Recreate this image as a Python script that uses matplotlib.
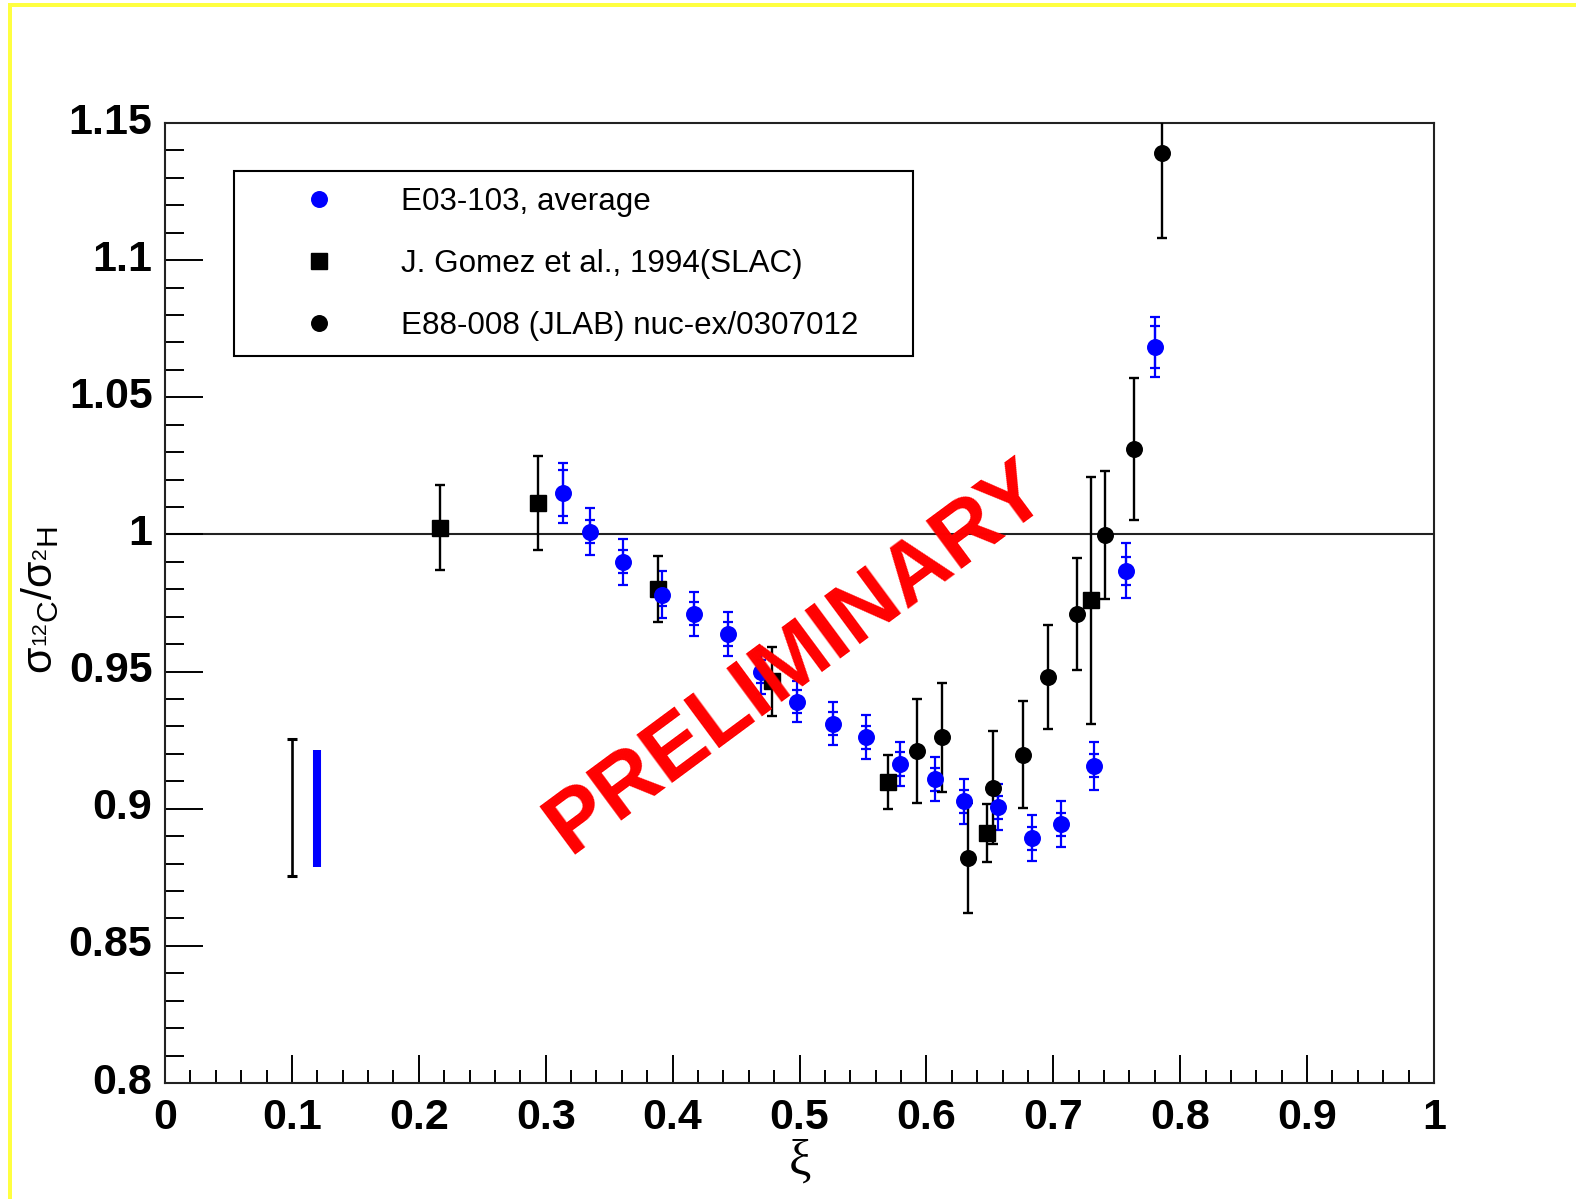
import matplotlib
matplotlib.use("Agg")
import matplotlib.pyplot as plt
from matplotlib.lines import Line2D
from matplotlib.ticker import MultipleLocator, FuncFormatter, FixedLocator
from matplotlib.transforms import ScaledTranslation
import numpy as np

# ---------------- data ----------------
# E03-103, average (blue): x, ratio, stat error (inner), total error (outer)
e03_x = [0.3135, 0.335, 0.361, 0.3915, 0.417, 0.4437, 0.4697, 0.498, 0.5265, 0.5524,
         0.579, 0.6068, 0.6296, 0.6565, 0.683, 0.706, 0.732, 0.757, 0.780]
e03_y = [1.015, 1.001, 0.990, 0.978, 0.971, 0.9637, 0.950, 0.939, 0.931, 0.926,
         0.9163, 0.9108, 0.9028, 0.9006, 0.8893, 0.8944, 0.9156, 0.9867, 1.0683]
e03_stat = [0.0084, 0.0043, 0.0042, 0.0042, 0.0042, 0.0042, 0.0042, 0.0042, 0.0042, 0.0042,
            0.0042, 0.0042, 0.0042, 0.0042, 0.0042, 0.0042, 0.0042, 0.005, 0.0077]
e03_tot = [0.011, 0.0085, 0.0085, 0.0085, 0.008, 0.008, 0.008, 0.0075, 0.0078, 0.008,
           0.008, 0.008, 0.0082, 0.0085, 0.0085, 0.0085, 0.0086, 0.010, 0.011]

# J. Gomez et al., 1994 (SLAC)
slac_x = [0.2167, 0.294, 0.3885, 0.478, 0.5697, 0.6477, 0.730]
slac_y = [1.0024, 1.0115, 0.980, 0.9464, 0.9097, 0.8912, 0.976]
slac_err = [0.0155, 0.017, 0.012, 0.0125, 0.0098, 0.0107, 0.045]

# E88-008 (JLAB) nuc-ex/0307012
jlab_x = [0.5925, 0.6123, 0.6328, 0.6525, 0.676, 0.6958, 0.719, 0.7407, 0.7636, 0.7857]
jlab_y = [0.921, 0.926, 0.882, 0.9076, 0.9196, 0.948, 0.971, 0.9998, 1.0311, 1.139]
jlab_err = [0.019, 0.020, 0.020, 0.0206, 0.0195, 0.019, 0.0205, 0.0235, 0.026, 0.031]

# normalization (systematic) bars
sysb_x, sysb_c, sysb_h = [0.10], [0.9005], [0.025]     # black
sysu_x, sysu_c, sysu_h = [0.12], [0.9001], [0.0213]    # blue

xticks = [0, 0.1, 0.2, 0.3, 0.4, 0.5, 0.6, 0.7, 0.8, 0.9, 1.0]
yticks = [0.8, 0.85, 0.9, 0.95, 1.0, 1.05, 1.1, 1.15]

legend_labels = ["E03-103, average", "J. Gomez et al., 1994(SLAC)",
                 "E88-008 (JLAB) nuc-ex/0307012"]

# ---------------- style ----------------
plt.rcParams['font.family'] = ['Liberation Sans', 'DejaVu Sans']
plt.rcParams['mathtext.fontset'] = 'custom'
plt.rcParams['mathtext.rm'] = 'Liberation Sans'
plt.rcParams['mathtext.it'] = 'Liberation Sans:italic'
plt.rcParams['mathtext.bf'] = 'Liberation Sans:bold'

W, H = 1576, 1199
fig = plt.figure(figsize=(W / 100, H / 100), dpi=100)
fig.patch.set_facecolor('white')

# yellow frame (top and left)
ycol = '#ffff40'
fig.add_artist(plt.Rectangle((8 / W, 1 - 7 / H), 1 - 8 / W, 4 / H, transform=fig.transFigure,
                             color=ycol, lw=0))
fig.add_artist(plt.Rectangle((8 / W, 0), 4 / W, 1 - 3 / H, transform=fig.transFigure,
                             color=ycol, lw=0))

ax_l, ax_r, ax_t, ax_b = 165, 1434, 123, 1083
ax = fig.add_axes([ax_l / W, 1 - ax_b / H, (ax_r - ax_l) / W, (ax_b - ax_t) / H])
ax.set_xlim(0, 1)
ax.set_ylim(0.8, 1.15)

for s in ax.spines.values():
    s.set_linewidth(1.5)
    s.set_color('#222222')

ax.xaxis.set_major_locator(FixedLocator(xticks))
ax.xaxis.set_minor_locator(MultipleLocator(0.02))
ax.yaxis.set_major_locator(FixedLocator(yticks))
ax.yaxis.set_minor_locator(MultipleLocator(0.01))
fmt = FuncFormatter(lambda v, p: ('%g' % round(v, 4)))
ax.xaxis.set_major_formatter(fmt)
ax.yaxis.set_major_formatter(fmt)
ax.tick_params(axis='x', which='major', direction='in', length=20, width=1.4, pad=11,
               labelsize=31, top=False)
ax.tick_params(axis='x', which='minor', direction='in', length=9.5, width=1.4, top=False)
ax.tick_params(axis='y', which='major', direction='in', length=27, width=1.4, pad=9,
               labelsize=31, right=False)
ax.tick_params(axis='y', which='minor', direction='in', length=14, width=1.4, right=False)
for lab in ax.get_xticklabels() + ax.get_yticklabels():
    lab.set_fontweight('bold')
# ROOT draws the y labels slightly above the tick position
shift = ScaledTranslation(0, 3.5 / 72, fig.dpi_scale_trans)
for t in ax.yaxis.get_major_ticks():
    t.label1.set_transform(t.label1.get_transform() + shift)

# reference line at 1
ax.axhline(1.0, color='#222222', lw=1.5, zorder=1)

# E03-103 blue
ax.errorbar(e03_x, e03_y, yerr=e03_tot, fmt='none', ecolor='#0000ff', elinewidth=1.6,
            capsize=3.6, capthick=1.6, zorder=3)
ax.errorbar(e03_x, e03_y, yerr=e03_stat, fmt='none', ecolor='#0000ff', elinewidth=1.6,
            capsize=3.6, capthick=1.6, zorder=3)
ax.plot(e03_x, e03_y, 'o', color='#0000ff', ms=11.2, mec='#0000ff', zorder=4)

# SLAC
ax.errorbar(slac_x, slac_y, yerr=slac_err, fmt='s', color='black', ms=11.5,
            elinewidth=1.7, capsize=3.6, capthick=1.7, zorder=3)

# JLAB
ax.errorbar(jlab_x, jlab_y, yerr=jlab_err, fmt='o', color='black', ms=11.2,
            elinewidth=1.7, capsize=3.6, capthick=1.7, zorder=3)

# normalization bars
ax.errorbar(sysb_x, sysb_c, yerr=sysb_h, fmt='none', ecolor='black', elinewidth=1.9,
            capsize=3.4, capthick=2.2, zorder=3)
ax.vlines(sysu_x, np.array(sysu_c) - np.array(sysu_h), np.array(sysu_c) + np.array(sysu_h),
          colors='#0000ff', lw=5.8, zorder=3)

# PRELIMINARY stamp
ax.text(0.4975, 0.955, 'PRELIMINARY', rotation=36.5, rotation_mode='anchor',
        ha='center', va='center', color='#ff0000', fontsize=63, fontweight='bold', zorder=5)

# legend
handles = [Line2D([], [], ls='none', marker='o', color='#0000ff', ms=11.2),
           Line2D([], [], ls='none', marker='s', color='black', ms=11.5),
           Line2D([], [], ls='none', marker='o', color='black', ms=11.2)]
lx0 = (234 - ax_l) / (ax_r - ax_l)
lx1 = (913 - ax_l) / (ax_r - ax_l)
lyt = 1 - (171 - ax_t) / (ax_b - ax_t)
leg = ax.legend(handles, legend_labels, loc='upper left',
                bbox_to_anchor=(lx0, lyt - 0.2, lx1 - lx0, 0.2), mode='expand',
                borderaxespad=0, fontsize=22.6, frameon=True, fancybox=False,
                edgecolor='black', framealpha=1, borderpad=0.5, handlelength=4.4,
                handletextpad=0.42, labelspacing=1.02)
leg.get_frame().set_linewidth(1.5)

# axis labels
fig.text(799.5 / W, 1 - 1162 / H, 'ξ', ha='center', va='center', fontsize=36,
         family=['Liberation Serif', 'DejaVu Serif'])
fig.text(40 / W, 1 - 600 / H,
         r'$\mathrm{\sigma}_{^{12}\mathrm{C}}/\mathrm{\sigma}_{^{2}\mathrm{H}}$',
         rotation=90, ha='center', va='center', fontsize=31)

fig.savefig('out.png', dpi=100)
